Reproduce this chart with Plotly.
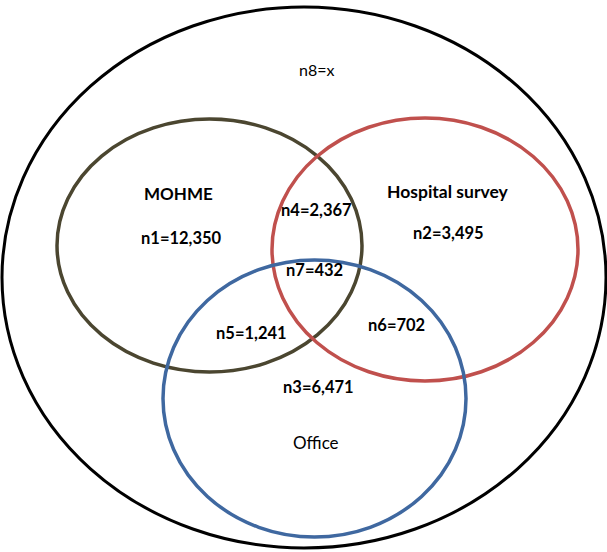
import plotly.graph_objects as go

# Data
sets = ["MOHME", "Hospital survey", "Office"]
region_names = ["n1", "n2", "n3", "n4", "n5", "n6", "n7", "n8"]
region_values = ["12,350", "3,495", "6,471", "2,367", "1,241", "702", "432", "x"]

W, H = 607, 552
fig = go.Figure()

# geometry (pixel coords)
outer = dict(x0=2, y0=7, x1=606, y1=548)
circles = {
    "MOHME": dict(x0=57, y0=119, x1=362, y1=372, color="#4b4630"),
    "Hospital survey": dict(x0=272, y0=118, x1=578, y1=381, color="#c0504d"),
    "Office": dict(x0=163, y0=260, x1=466, y1=537, color="#3f68a0"),
}

fig.add_shape(type="circle", xref="x", yref="y", line=dict(color="black", width=3),
              fillcolor="rgba(0,0,0,0)", **outer)
for s in sets:
    c = circles[s]
    fig.add_shape(type="circle", xref="x", yref="y", line=dict(color=c["color"], width=3.5),
                  fillcolor="rgba(0,0,0,0)", x0=c["x0"], y0=c["y0"], x1=c["x1"], y1=c["y1"])

set_pos = {"MOHME": (178, 193, True, 17), "Hospital survey": (447, 191, True, 17.5),
           "Office": (316, 442, False, 17)}
region_pos = {
    "n1": (181, 238), "n2": (448, 233), "n3": (318, 387), "n4": (316, 210),
    "n5": (251, 333), "n6": (396, 325), "n7": (314, 270), "n8": (316, 69),
}

font_family = "Lato, 'Open Sans', sans-serif"
for s in sets:
    x, y, bold, sz = set_pos[s]
    txt = f"<b>{s}</b>" if bold else s
    fig.add_annotation(x=x, y=y, text=txt, showarrow=False, xref="x", yref="y",
                       font=dict(family=font_family, size=sz, color="black"))
for name, val in zip(region_names, region_values):
    x, y = region_pos[name]
    if name == "n8":
        txt, sz = f"{name}={val}", 16
    else:
        txt, sz = f"<b>{name}={val}</b>", 16.5
    fig.add_annotation(x=x, y=y, text=txt, showarrow=False, xref="x", yref="y",
                       font=dict(family=font_family, size=sz, color="black"))

fig.update_xaxes(range=[0, W], visible=False, fixedrange=True)
fig.update_yaxes(range=[H, 0], visible=False, fixedrange=True)
fig.update_layout(width=W, height=H, margin=dict(l=0, r=0, t=0, b=0),
                  plot_bgcolor="white", paper_bgcolor="white", showlegend=False)
fig.write_html("out.html", config={"displayModeBar": False},
               post_script="document.body.style.margin='0';document.body.style.overflow='hidden';")
